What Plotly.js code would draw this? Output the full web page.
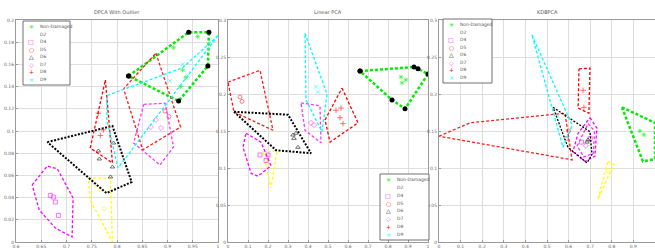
<!DOCTYPE html>
<html><head><meta charset="utf-8">
<script src="https://cdn.plot.ly/plotly-3.0.1.min.js"></script>
<style>body{margin:0;background:#fff}#chart{width:655px;height:248px}</style>
</head><body><div id="chart"></div>
<script>
const classes = ['Non-Damaged','D2','D4','D5','D6','D7','D8','D9'];
const panelTitles = ['DPCA With Outlier','Linear PCA','KDBPCA'];

// ---- Panel 1: DPCA With Outlier ----
const dpcaHullX = [
  [0.823,0.942,0.982,0.980,0.922],
  [0.743,0.787,0.791,0.747],
  [0.632,0.662,0.682,0.713,0.711,0.678,0.646],
  [0.877,0.926,0.851,0.813],
  [0.662,0.791,0.829,0.779],
  [0.853,0.895,0.898,0.912,0.885,0.833],
  [0.777,0.791,0.747],
  [1.0,0.93,0.78,0.78,0.802]
];
const dpcaHullY = [
  [0.1495,0.189,0.189,0.1586,0.127],
  [0.0577,0.0577,0.0,0.0378],
  [0.0514,0.0685,0.0658,0.0396,0.0045,0.0126,0.0288],
  [0.170,0.1036,0.083,0.138],
  [0.090,0.1045,0.054,0.044],
  [0.124,0.125,0.119,0.0856,0.0694,0.0892],
  [0.146,0.0712,0.0847],
  [0.186,0.157,0.132,0.11,0.0667]
];
const dpcaPtsX = [
  [0.912,0.96,0.93,0.936,0.926],
  [0.767,0.775,0.757],
  [0.674,0.678,0.684,0.668],
  [0.903,0.895],
  [0.763,0.765,0.791,0.787,0.793],
  [0.867,0.887,0.877],
  [0.763,0.767,0.773],
  [0.93,0.94,0.905]
];
const dpcaPtsY = [
  [0.175,0.185,0.155,0.148,0.14],
  [0.047,0.03,0.052],
  [0.0405,0.036,0.024,0.042],
  [0.113,0.118],
  [0.082,0.0748,0.0676,0.0586,0.0892],
  [0.1036,0.1027,0.11],
  [0.116,0.096,0.101],
  [0.16,0.15,0.145]
];

// ---- Panel 2: Linear PCA ----
const lpcaHullX = [
  [0.66,0.93,0.95,1.0,0.885,0.82],
  [0.175,0.245,0.215],
  [0.09,0.165,0.215,0.15,0.115,0.075],
  [0.0,0.16,0.225,0.03],
  [0.03,0.30,0.415,0.24],
  [0.365,0.46,0.465,0.385],
  [0.57,0.65,0.51,0.485],
  [0.385,0.495,0.47,0.39]
];
const lpcaHullY = [
  [0.231,0.2365,0.234,0.227,0.180,0.192],
  [0.122,0.123,0.073],
  [0.147,0.135,0.103,0.089,0.093,0.128],
  [0.216,0.232,0.151,0.1757],
  [0.176,0.172,0.120,0.124],
  [0.188,0.184,0.134,0.151],
  [0.208,0.161,0.135,0.165],
  [0.282,0.2,0.149,0.192]
];
const lpcaPtsX = [
  [0.865,0.89,0.87],
  [0.195,0.205],
  [0.16,0.2,0.19],
  [0.06,0.07],
  [0.325,0.34,0.35,0.33],
  [0.415,0.43],
  [0.54,0.565,0.56,0.575],
  [0.45,0.44]
];
const lpcaPtsY = [
  [0.223,0.219,0.215],
  [0.107,0.115],
  [0.1176,0.1176,0.11],
  [0.196,0.19],
  [0.1446,0.147,0.128,0.14],
  [0.161,0.158],
  [0.178,0.181,0.168,0.16],
  [0.203,0.21]
];

// ---- Panel 3: KDBPCA ----
const kdbHullX = [
  [0.847,1.0,1.0,0.944],
  [0.782,0.81,0.736],
  [0.699,0.731,0.722,0.676,0.62,0.644],
  [0.0,0.143,0.583,0.616],
  [0.528,0.699,0.708,0.685,0.597],
  [0.69,0.72,0.715,0.67,0.64],
  [0.648,0.699,0.694,0.644],
  [0.43,0.616,0.574]
];
const kdbHullY = [
  [0.182,0.161,0.112,0.109],
  [0.109,0.105,0.058],
  [0.168,0.154,0.116,0.109,0.122,0.147],
  [0.143,0.161,0.174,0.111],
  [0.182,0.149,0.118,0.107,0.128],
  [0.16,0.15,0.12,0.115,0.13],
  [0.234,0.235,0.174,0.181],
  [0.28,0.158,0.128]
];
const kdbPtsX = [
  [0.949,0.93],
  [0.782],
  [0.66,0.70],
  [0.6,0.59],
  [0.685,0.69],
  [0.68],
  [0.667,0.671],
  [0.55]
];
const kdbPtsY = [
  [0.145,0.15],
  [0.097],
  [0.135,0.14],
  [0.15,0.14],
  [0.135,0.138],
  [0.13],
  [0.205,0.182],
  [0.17]
];

// ---- styles ----
const colors = ['#00ee00','#ffff00','#ff00ff','#ff1a1a','#000000','#ff33ff','#ff0000','#00ffff'];
const symbols = ['asterisk-open','circle-open','square-open','circle-open','triangle-up-open','diamond-open','cross-thin-open','x-thin-open'];
const legSyms = ['✳','·','□','○','△','◇','+','×'];

const W = 655, H = 248;
const panels = [
  {hx: dpcaHullX, hy: dpcaHullY, px: dpcaPtsX, py: dpcaPtsY, xa:'x', ya:'y', vtx:true,
   dom:[16,218], xr:[0.6,1.0], yr:[0,0.2], xd:0.05, yd:0.02, leg:[23,21,70,85]},
  {hx: lpcaHullX, hy: lpcaHullY, px: lpcaPtsX, py: lpcaPtsY, xa:'x2', ya:'y2', vtx:true,
   dom:[228,428], xr:[0,1], yr:[0,0.3], xd:0.1, yd:0.05, leg:[380,174,429,240]},
  {hx: kdbHullX, hy: kdbHullY, px: kdbPtsX, py: kdbPtsY, xa:'x3', ya:'y3', vtx:false,
   dom:[439,655], xr:[0,1], yr:[0,0.3], xd:0.1, yd:0.05, leg:[443,19,492,83]}
];

const traces = [];
const layout = {
  width: W, height: H, margin:{l:0,r:0,t:0,b:0},
  paper_bgcolor:'#fff', plot_bgcolor:'#fff', showlegend:false,
  font:{family:'DejaVu Sans, Arial', size:5, color:'#555'},
  annotations:[], shapes:[]
};
const yDom = [1-242/H, 1-20/H];

panels.forEach((p, pi) => {
  const sfx = pi === 0 ? '' : String(pi+1);
  layout['xaxis'+sfx] = {
    domain:[p.dom[0]/W, p.dom[1]/W], range:p.xr, dtick:p.xd, tick0:0,
    showgrid:true, gridcolor:'#dedede', gridwidth:1, zeroline:false,
    showline:true, mirror:true, linecolor:'#9a9a9a', linewidth:1,
    ticks:'inside', ticklen:2, tickcolor:'#9a9a9a',
    tickfont:{size:4.5, color:'#666'}, anchor:'y'+sfx, automargin:false
  };
  layout['yaxis'+sfx] = {
    domain:yDom, range:p.yr, dtick:p.yd, tick0:0,
    showgrid:true, gridcolor:'#dedede', gridwidth:1, zeroline:false,
    showline:true, mirror:true, linecolor:'#9a9a9a', linewidth:1,
    ticks:'inside', ticklen:2, tickcolor:'#9a9a9a',
    tickfont:{size:4.5, color:'#666'}, anchor:'x'+sfx, automargin:false
  };
  classes.forEach((c, ci) => {
    const hx = p.hx[ci].concat([p.hx[ci][0]]);
    const hy = p.hy[ci].concat([p.hy[ci][0]]);
    const isND = ci === 0, isBlk = ci === 4;
    const lw = isND ? 2.5 : (isBlk && p.vtx ? 2 : 1.3);
    traces.push({
      type:'scatter', x:hx, y:hy, xaxis:p.xa, yaxis:p.ya,
      mode: (isND && p.vtx) ? 'lines+markers' : 'lines',
      line:{color:colors[ci], width:lw, dash: isBlk ? '2px,1.5px' : '3px,2px'},
      marker:{color:'#000', size:5},
      hoverinfo:'skip'
    });
    traces.push({
      type:'scatter', x:p.px[ci], y:p.py[ci], xaxis:p.xa, yaxis:p.ya, mode:'markers',
      marker:{symbol:symbols[ci], size:4, color:colors[ci], line:{width:0.8, color:colors[ci]}},
      opacity:0.7, name:c
    });
  });
  // title
  layout.annotations.push({
    xref:'paper', yref:'paper', x:(p.dom[0]+p.dom[1])/2/W, y:1-12/H,
    xanchor:'center', yanchor:'middle', showarrow:false, text:panelTitles[pi],
    font:{size:5, color:'#555'}
  });
  // legend box
  const [lx0, ly0, lx1, ly1] = p.leg;
  layout.shapes.push({
    type:'rect', xref:'paper', yref:'paper', x0:lx0/W, x1:lx1/W, y0:1-ly0/H, y1:1-ly1/H,
    line:{color:'#707070', width:1}, fillcolor:'#fff', layer:'above'
  });
  const rowH = (ly1-ly0-4)/classes.length;
  classes.forEach((c, ci) => {
    const cy = ly0 + 2 + rowH*(ci+0.5);
    layout.annotations.push({
      xref:'paper', yref:'paper', x:(lx0+8)/W, y:1-cy/H, xanchor:'center', yanchor:'middle',
      showarrow:false, text:legSyms[ci], font:{size:6, color:colors[ci]}
    });
    layout.annotations.push({
      xref:'paper', yref:'paper', x:(lx0+15)/W, y:1-cy/H, xanchor:'left', yanchor:'middle',
      showarrow:false, text:c, font:{size:4.5, color:'#555'}
    });
  });
});

Plotly.newPlot('chart', traces, layout, {staticPlot:true, displayModeBar:false});
</script>
</body></html>
